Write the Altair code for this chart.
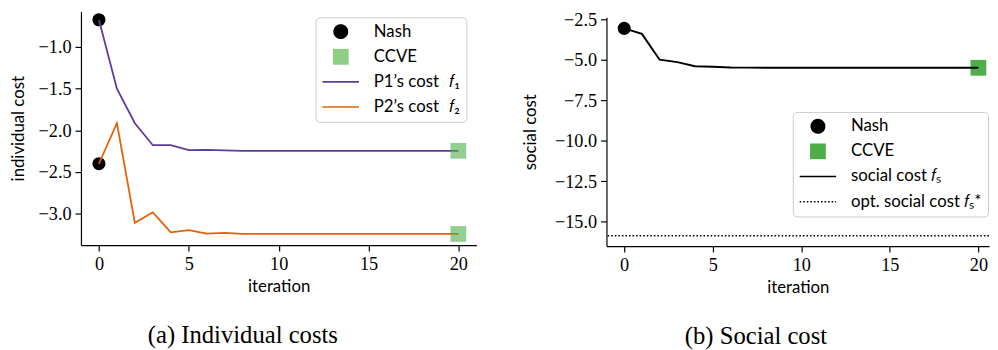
import altair as alt
import pandas as pd

# ---------------- data ----------------
iterations = [0, 1, 2, 3, 4, 5, 6, 7, 8, 9, 10, 11, 12, 13, 14, 15, 16, 17, 18, 19, 20]
p1_cost = [-0.674, -1.500, -1.914, -2.178, -2.178, -2.237, -2.233, -2.241, -2.245, -2.245,
           -2.245, -2.245, -2.245, -2.245, -2.245, -2.245, -2.245, -2.245, -2.245, -2.245, -2.245]
p2_cost = [-2.400, -1.914, -3.109, -2.982, -3.222, -3.195, -3.238, -3.230, -3.242, -3.242,
           -3.242, -3.242, -3.242, -3.242, -3.242, -3.242, -3.242, -3.242, -3.242, -3.242, -3.242]
social_cost = [-3.04, -3.38, -4.98, -5.13, -5.38, -5.42, -5.46, -5.47, -5.48, -5.48,
               -5.48, -5.48, -5.48, -5.48, -5.48, -5.48, -5.48, -5.48, -5.48, -5.48, -5.48]
opt_social_cost = [-15.86]

left_entries = ["Nash", "CCVE",
                "P1\u2019s cost\u2002\u2009\U0001D453\u2081", "P2\u2019s cost\u2002\u2009\U0001D453\u2082"]
right_entries = ["Nash", "CCVE", "social cost \U0001D453\u209B", "opt. social cost \U0001D453\u209B*"]
x_ticks = [0, 5, 10, 15, 20]
left_y_ticks = [-1.0, -1.5, -2.0, -2.5, -3.0]
right_y_ticks = [-2.5, -5.0, -7.5, -10.0, -12.5, -15.0]

PURPLE = "#5e3c99"
ORANGE = "#e66101"
GREEN = "#4daf4a"
LIGHT_GREEN = "#8fcf84"

SERIF = "Liberation Serif"
SANS = "Lato"

CIRCLE = "M-0.365,0A0.365,0.365,0,1,1,0.365,0A0.365,0.365,0,1,1,-0.365,0Z"
SQUARE = "M-0.39,-0.39H0.39V0.39H-0.39Z"
LINE = "M-1,0H1"


def make_legend(lx, ly):
    return alt.Legend(
        title=None, orient="none", legendX=lx, legendY=ly,
        symbolSize=1369, symbolStrokeWidth=1.6, symbolOpacity=1,
        clipHeight=17, rowPadding=7.5, padding=6, labelOffset=14,
        labelFont=SANS, labelFontSize=17, labelColor="black", labelLimit=400,
        strokeColor="#cccccc", fillColor="rgba(255,255,255,0.85)", cornerRadius=4,
    )


def legend_layer(entries, fills, strokes, shapes, dashes, lx, ly):
    leg = make_legend(lx, ly)
    df = pd.DataFrame({"entry": entries})
    return alt.Chart(df).mark_point(filled=True, opacity=0).encode(
        fill=alt.Fill("entry:N", sort=entries, scale=alt.Scale(domain=entries, range=fills), legend=leg),
        stroke=alt.Stroke("entry:N", sort=entries, scale=alt.Scale(domain=entries, range=strokes), legend=leg),
        shape=alt.Shape("entry:N", sort=entries, scale=alt.Scale(domain=entries, range=shapes), legend=leg),
        strokeDash=alt.StrokeDash("entry:N", sort=entries, scale=alt.Scale(domain=entries, range=dashes), legend=leg),
    )


LEFT_H = 237
RIGHT_H = 238

x_scale_l = alt.Scale(domain=[-1, 21], nice=False, zero=False)
x_scale_r = alt.Scale(domain=[-1, 20.6], nice=False, zero=False)
y_scale_l = alt.Scale(domain=[-3.375, -0.574], nice=False, zero=False)
y_scale_r = alt.Scale(domain=[-16.5, -2.36], nice=False, zero=False, range=[RIGHT_H, 6])

axis_common = dict(labelFont=SERIF, labelFontSize=18.5, labelColor="black", labelFlush=False,
                   titleFont=SANS, titleFontSize=17, titleFontWeight="normal", titleColor="black")
x_axis = alt.Axis(values=x_ticks, format="d", title="iteration", titlePadding=6, **axis_common)
y_axis_l = alt.Axis(values=left_y_ticks, format=".1f", title="individual cost", titlePadding=11, **axis_common)
y_axis_r = alt.Axis(values=right_y_ticks, format=".1f", title="social cost", titlePadding=14.7, **axis_common)


def X(field, scale):
    return alt.X(field, type="quantitative", scale=scale, axis=x_axis)


def caption(text):
    return alt.TitleParams(text, orient="bottom", anchor="middle", frame="bounds",
                           font=SERIF, fontSize=25, fontWeight="normal", color="black", offset=29)


# ---------------- left panel ----------------
p1_df = pd.DataFrame({"iteration": iterations, "cost": p1_cost})
p2_df = pd.DataFrame({"iteration": iterations, "cost": p2_cost})
nash_l = pd.DataFrame({"iteration": [iterations[0], iterations[0]], "cost": [p1_cost[0], p2_cost[0]]})
ccve_l = pd.DataFrame({"iteration": [iterations[-1], iterations[-1]], "cost": [p1_cost[-1], p2_cost[-1]]})

YL = dict(scale=y_scale_l, axis=y_axis_l, title="individual cost")

nash_layer_l = alt.Chart(nash_l).mark_point(filled=True, shape="circle", size=177, color="black", opacity=1).encode(
    x=X("iteration", x_scale_l), y=alt.Y("cost:Q", **YL))
p1_line = alt.Chart(p1_df).mark_line(color=PURPLE, strokeWidth=1.8).encode(
    x=X("iteration", x_scale_l), y=alt.Y("cost:Q", **YL))
p2_line = alt.Chart(p2_df).mark_line(color=ORANGE, strokeWidth=1.8).encode(
    x=X("iteration", x_scale_l), y=alt.Y("cost:Q", **YL))
ccve_layer_l = alt.Chart(ccve_l).mark_square(size=256, color=GREEN, opacity=0.6).encode(
    x=X("iteration", x_scale_l), y=alt.Y("cost:Q", **YL))
leg_l = legend_layer(left_entries, ["black", LIGHT_GREEN, PURPLE, ORANGE],
                     ["black", LIGHT_GREEN, PURPLE, ORANGE], [CIRCLE, SQUARE, LINE, LINE],
                     [[1, 0], [1, 0], [1, 0], [1, 0]], 238, 6)

left = alt.layer(nash_layer_l, p1_line, p2_line, ccve_layer_l, leg_l).properties(
    width=401, height=LEFT_H, title=caption("(a) Individual costs"))

# ---------------- right panel ----------------
soc_df = pd.DataFrame({"iteration": iterations, "cost": social_cost})
nash_r = pd.DataFrame({"iteration": [iterations[0]], "cost": [social_cost[0]]})
ccve_r = pd.DataFrame({"iteration": [iterations[-1]], "cost": [social_cost[-1]]})
opt_df = pd.DataFrame({"cost": opt_social_cost})

YR = dict(scale=y_scale_r, axis=y_axis_r, title="social cost")

nash_layer_r = alt.Chart(nash_r).mark_point(filled=True, shape="circle", size=177, color="black", opacity=1).encode(
    x=X("iteration", x_scale_r), y=alt.Y("cost:Q", **YR))
ccve_layer_r = alt.Chart(ccve_r).mark_square(size=256, color=GREEN, opacity=1).encode(
    x=X("iteration", x_scale_r), y=alt.Y("cost:Q", **YR))
soc_line = alt.Chart(soc_df).mark_line(color="black", strokeWidth=2).encode(
    x=X("iteration", x_scale_r), y=alt.Y("cost:Q", **YR))
opt_rule = alt.Chart(opt_df).mark_rule(color="black", strokeWidth=1.6, strokeDash=[1.6, 2]).encode(
    y=alt.Y("cost:Q", **YR))
leg_r = legend_layer(right_entries, ["black", GREEN, "black", "black"],
                     ["black", GREEN, "black", "black"], [CIRCLE, SQUARE, LINE, LINE],
                     [[1, 0], [1, 0], [1, 0], [1.6, 2]], 189, 102)

right = alt.layer(nash_layer_r, ccve_layer_r, soc_line, opt_rule, leg_r).properties(
    width=388, height=RIGHT_H, title=caption("(b) Social cost"))

chart = alt.hconcat(left, right, spacing=46).resolve_scale(
    fill="independent", stroke="independent", shape="independent", strokeDash="independent",
    x="independent", y="independent",
).resolve_legend(
    fill="independent", stroke="independent", shape="independent", strokeDash="independent",
).properties(
    padding={"left": 1, "top": 0, "right": 0, "bottom": 0}, background="white"
).configure_view(strokeWidth=0).configure_axis(
    grid=False, domainColor="black", domainWidth=1.2, tickColor="black", tickWidth=1.2, tickSize=6,
    labelPadding=4,
)

chart.save("out.html", embed_options={"renderer": "svg", "actions": False})
